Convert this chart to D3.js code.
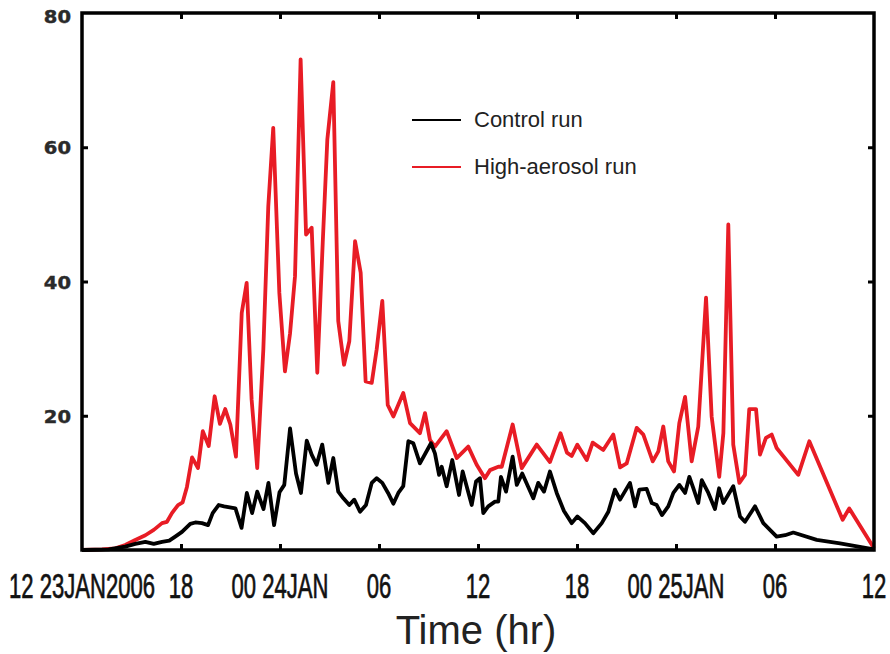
<!DOCTYPE html>
<html>
<head>
<meta charset="utf-8">
<script src="https://cdn.jsdelivr.net/npm/d3@7"></script>
<style>
  html, body { margin: 0; padding: 0; background: #fff; }
  svg { display: block; }
</style>
</head>
<body>
<div id="chart"></div>
<script>
// hours since 12Z 23 Jan 2006
const aerosolHours = [0, 1.21, 2.02, 2.62, 3.23, 3.84, 4.35, 4.85, 5.15, 5.45, 5.82, 6.10, 6.36, 6.67, 7.03, 7.32, 7.68, 8.04, 8.36, 8.68, 8.99, 9.33, 9.68, 9.98, 10.28, 10.62, 10.99, 11.29, 11.59, 11.96, 12.30, 12.61, 12.91, 13.25, 13.58, 13.92, 14.26, 14.59, 14.87, 15.23, 15.53, 15.88, 16.20, 16.55, 16.89, 17.19, 17.56, 17.86, 18.20, 18.53, 18.87, 19.47, 19.88, 20.48, 20.79, 21.09, 21.39, 22.10, 22.71, 23.41, 23.92, 24.42, 24.73, 25.23, 25.44, 26.10, 26.65, 27.56, 28.36, 29.0, 29.39, 29.68, 30.02, 30.59, 30.95, 31.59, 32.20, 32.61, 33.01, 33.62, 34.02, 34.59, 34.93, 35.23, 35.53, 35.88, 36.20, 36.55, 36.95, 37.35, 37.82, 38.16, 38.62, 38.87, 39.17, 39.47, 39.84, 40.18, 40.44, 40.85, 41.09, 41.45, 41.80, 42.10, 43.41, 44.08, 46.10, 46.50, 48.0];
const aerosolValues = [0, 0.1, 0.25, 0.75, 1.5, 2.2, 3.0, 4.0, 4.2, 5.5, 6.7, 7.1, 9.4, 13.8, 12.2, 17.7, 15.5, 22.9, 18.8, 21.0, 18.7, 13.9, 35.3, 39.8, 22.4, 12.2, 29.9, 51.2, 62.9, 38.3, 26.6, 32.3, 40.8, 73.1, 47.0, 48.0, 26.4, 45.8, 61.2, 69.7, 34.1, 27.6, 31.1, 46.0, 41.3, 25.1, 24.9, 29.9, 37.1, 21.6, 19.9, 23.4, 18.9, 17.4, 20.4, 16.4, 15.4, 17.7, 13.7, 15.4, 12.7, 10.7, 11.9, 12.4, 12.4, 18.7, 12.2, 15.7, 13.1, 17.4, 14.5, 14.0, 15.7, 13.4, 16.0, 14.9, 17.2, 12.3, 12.9, 18.2, 17.2, 13.2, 14.7, 18.4, 13.2, 11.7, 18.9, 22.8, 13.2, 18.4, 37.6, 19.9, 10.9, 17.4, 48.5, 15.7, 10.0, 11.2, 21.0, 21.0, 14.2, 16.7, 17.2, 15.2, 11.2, 16.2, 4.5, 6.2, 0.25];

const controlHours = [0, 1.62, 2.62, 3.23, 3.84, 4.35, 4.85, 5.29, 5.65, 6.06, 6.56, 6.87, 7.27, 7.64, 7.92, 8.28, 8.61, 9.30, 9.67, 9.99, 10.31, 10.62, 11.0, 11.30, 11.64, 11.97, 12.26, 12.61, 12.97, 13.27, 13.62, 13.92, 14.22, 14.56, 14.93, 15.23, 15.53, 15.84, 16.20, 16.50, 16.85, 17.21, 17.56, 17.86, 18.20, 18.55, 18.87, 19.17, 19.47, 19.78, 20.08, 20.48, 21.15, 21.39, 21.64, 21.80, 22.10, 22.44, 22.85, 23.07, 23.62, 23.88, 24.12, 24.32, 24.62, 25.03, 25.23, 25.39, 25.70, 26.10, 26.35, 26.68, 27.35, 27.65, 28.0, 28.36, 28.77, 29.21, 29.68, 30.02, 30.48, 30.99, 31.50, 31.90, 32.30, 32.61, 33.21, 33.52, 33.78, 34.22, 34.53, 34.83, 35.15, 35.53, 35.84, 36.20, 36.55, 36.81, 37.05, 37.35, 37.56, 37.96, 38.36, 38.61, 38.87, 39.47, 39.88, 40.18, 40.79, 41.29, 42.10, 42.61, 43.11, 44.53, 45.94, 48.0];
const controlValues = [0, 0.1, 0.5, 0.9, 1.2, 0.9, 1.2, 1.4, 2.0, 2.7, 3.9, 4.1, 4.0, 3.7, 5.5, 6.7, 6.5, 6.2, 3.3, 8.5, 5.5, 8.7, 6.1, 10.0, 3.7, 8.6, 9.7, 18.1, 11.4, 8.5, 16.3, 14.2, 12.7, 15.7, 10.0, 13.7, 8.7, 7.7, 6.7, 7.5, 5.7, 6.7, 10.0, 10.7, 10.0, 8.5, 6.9, 8.5, 9.5, 16.2, 15.9, 12.9, 15.9, 14.4, 11.2, 12.4, 9.5, 13.4, 8.2, 11.7, 6.7, 10.2, 10.7, 5.5, 6.5, 7.2, 7.2, 10.9, 8.7, 13.9, 9.7, 11.4, 7.7, 10.0, 8.7, 11.7, 8.5, 5.8, 4.0, 5.0, 4.0, 2.5, 4.0, 5.7, 9.0, 7.5, 10.0, 6.5, 9.0, 9.1, 7.0, 6.7, 5.2, 6.5, 8.5, 9.7, 8.5, 10.9, 9.2, 7.0, 10.4, 8.5, 6.1, 9.2, 7.0, 9.5, 5.0, 4.2, 6.5, 4.0, 2.0, 2.2, 2.6, 1.5, 1.0, 0.1];

const xTicks = [0, 6, 12, 18, 24, 30, 36, 42, 48];
const xTickLabels = ["12 23JAN2006", "18", "00 24JAN", "06", "12", "18", "00 25JAN", "06", "12"];
const yTicks = [20, 40, 60, 80];

const seriesNames = ["Control run", "High-aerosol run"];
const seriesColors = ["#000000", "#e81c25"];

(() => {
  const W = 890, H = 654;
  const m = { left: 82, right: 874, top: 13, bottom: 550 };

  const x = d3.scaleLinear().domain([0, 48]).range([m.left, m.right]);
  const y = d3.scaleLinear().domain([0, 80]).range([m.bottom, m.top]);

  const svg = d3.select("#chart").append("svg")
    .attr("width", W).attr("height", H)
    .attr("viewBox", `0 0 ${W} ${H}`);

  const line = d3.line().x(d => x(d[0])).y(d => y(d[1]));

  const aerosol = aerosolHours.map((h, i) => [h, aerosolValues[i]]);
  const control = controlHours.map((h, i) => [h, controlValues[i]]);

  // red first so the control run sits on top where they overlap
  [[aerosol, seriesColors[1]], [control, seriesColors[0]]].forEach(([data, col]) => {
    svg.append("path")
      .datum(data)
      .attr("fill", "none")
      .attr("stroke", col)
      .attr("stroke-width", 3.8)
      .attr("stroke-linejoin", "round")
      .attr("d", line);
  });

  // inward ticks on all four sides
  const tickLen = 6;
  const axisStyle = g => {
    g.select(".domain").remove();
    g.selectAll(".tick line").attr("stroke", "#000").attr("stroke-width", 3);
    g.selectAll(".tick text").remove();
  };
  svg.append("g").attr("transform", `translate(0,${m.bottom})`)
    .call(d3.axisBottom(x).tickValues(xTicks.slice(1, -1)).tickSize(-tickLen)).call(axisStyle);
  svg.append("g").attr("transform", `translate(0,${m.top})`)
    .call(d3.axisTop(x).tickValues(xTicks.slice(1, -1)).tickSize(-tickLen)).call(axisStyle);
  svg.append("g").attr("transform", `translate(${m.left},0)`)
    .call(d3.axisLeft(y).tickValues(yTicks.slice(0, -1)).tickSize(-tickLen)).call(axisStyle);
  svg.append("g").attr("transform", `translate(${m.right},0)`)
    .call(d3.axisRight(y).tickValues(yTicks.slice(0, -1)).tickSize(-tickLen)).call(axisStyle);

  svg.append("rect")
    .attr("x", m.left).attr("y", m.top)
    .attr("width", m.right - m.left).attr("height", m.bottom - m.top)
    .attr("fill", "none").attr("stroke", "#000").attr("stroke-width", 3.5);

  // x tick labels: tall condensed text
  svg.append("g").selectAll("g")
    .data(xTicks)
    .join("g")
    .attr("transform", d => `translate(${x(d)},598)`)
    .append("text")
    .attr("transform", "scale(0.63,1)")
    .attr("text-anchor", "middle")
    .style("font-family", "'Liberation Sans', Arial, sans-serif")
    .style("font-size", "35px")
    .attr("fill", "#111")
    .attr("stroke", "#111")
    .attr("stroke-width", 0.7)
    .text((d, i) => xTickLabels[i]);

  // y tick labels: bold, wide
  svg.append("g").selectAll("g")
    .data(yTicks)
    .join("g")
    .attr("transform", d => `translate(71,${y(d) + 7 + (d === 80 ? 3 : 0)})`)
    .append("text")
    .attr("transform", "scale(1.15,1)")
    .attr("text-anchor", "end")
    .style("font-family", "'DejaVu Sans', sans-serif")
    .style("font-weight", "bold")
    .style("font-size", "17px")
    .attr("fill", "#2a2a2a")
    .attr("stroke", "#2a2a2a")
    .attr("stroke-width", 0.4)
    .text(d => d);

  svg.append("text")
    .attr("x", 476).attr("y", 644)
    .attr("text-anchor", "middle")
    .style("font-family", "'Liberation Sans', Arial, sans-serif")
    .style("font-size", "40px")
    .attr("fill", "#222")
    .text("Time (hr)");

  // legend
  const legend = svg.append("g").selectAll("g")
    .data(seriesNames)
    .join("g")
    .attr("transform", (d, i) => `translate(412,${120 + i * 47})`);
  legend.append("line")
    .attr("x1", 0).attr("x2", 49)
    .attr("stroke", (d, i) => seriesColors[i])
    .attr("stroke-width", 2.2);
  legend.append("text")
    .attr("x", 62).attr("y", 7)
    .style("font-family", "'Liberation Sans', Arial, sans-serif")
    .style("font-size", "22px")
    .attr("fill", "#222")
    .text(d => d);
})();
</script>
</body>
</html>
